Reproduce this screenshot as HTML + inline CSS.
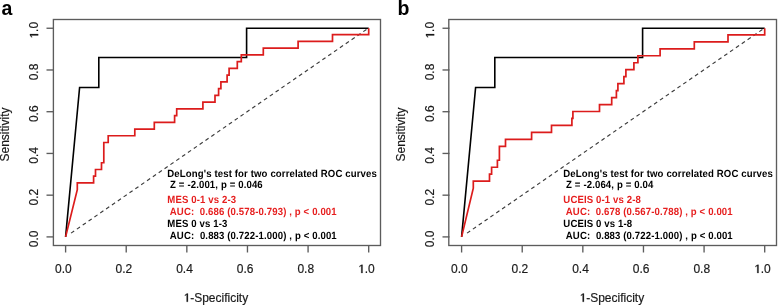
<!DOCTYPE html>
<html><head><meta charset="utf-8"><style>
html,body{margin:0;padding:0;background:#fff;width:778px;height:305px;overflow:hidden}
svg{display:block;filter:blur(0.3px);font-family:"Liberation Sans",sans-serif} text{white-space:pre}
</style></head><body>
<svg width="778" height="305" viewBox="0 0 778 305">
<rect width="778" height="305" fill="#fff"/>
<rect x="53.40" y="19.5" width="327.10" height="226" fill="none" stroke="#5c5c5c" stroke-width="1.35"/>
<line x1="65.60" y1="245.5" x2="65.60" y2="252.5" stroke="#5c5c5c" stroke-width="1.35"/>
<g transform="translate(63.30,273)"><text x="0" y="0" text-anchor="middle" font-size="12" fill="#1a1a1a" stroke="#1a1a1a" stroke-width="0.18">0.0</text></g>
<line x1="126.22" y1="245.5" x2="126.22" y2="252.5" stroke="#5c5c5c" stroke-width="1.35"/>
<g transform="translate(123.92,273)"><text x="0" y="0" text-anchor="middle" font-size="12" fill="#1a1a1a" stroke="#1a1a1a" stroke-width="0.18">0.2</text></g>
<line x1="186.84" y1="245.5" x2="186.84" y2="252.5" stroke="#5c5c5c" stroke-width="1.35"/>
<g transform="translate(184.54,273)"><text x="0" y="0" text-anchor="middle" font-size="12" fill="#1a1a1a" stroke="#1a1a1a" stroke-width="0.18">0.4</text></g>
<line x1="247.46" y1="245.5" x2="247.46" y2="252.5" stroke="#5c5c5c" stroke-width="1.35"/>
<g transform="translate(245.16,273)"><text x="0" y="0" text-anchor="middle" font-size="12" fill="#1a1a1a" stroke="#1a1a1a" stroke-width="0.18">0.6</text></g>
<line x1="308.08" y1="245.5" x2="308.08" y2="252.5" stroke="#5c5c5c" stroke-width="1.35"/>
<g transform="translate(305.78,273)"><text x="0" y="0" text-anchor="middle" font-size="12" fill="#1a1a1a" stroke="#1a1a1a" stroke-width="0.18">0.8</text></g>
<line x1="368.70" y1="245.5" x2="368.70" y2="252.5" stroke="#5c5c5c" stroke-width="1.35"/>
<g transform="translate(366.40,273)"><g transform="translate(-8.34,0)"><path d="M540 0L770 0L770 1409L590 1409L247 1180L247 1010L540 1227Z" transform="scale(0.005859,-0.005859)" fill="#1a1a1a" stroke="#1a1a1a" stroke-width="40"/><text x="6.674" y="0" font-size="12" fill="#1a1a1a" stroke="#1a1a1a" stroke-width="0.18">.0</text></g></g>
<line x1="46.50" y1="236.90" x2="53.50" y2="236.90" stroke="#5c5c5c" stroke-width="1.35"/>
<g transform="translate(38.20,238.90) rotate(-90)"><text x="0" y="0" text-anchor="middle" font-size="12" fill="#1a1a1a" stroke="#1a1a1a" stroke-width="0.18">0.0</text></g>
<line x1="46.50" y1="195.17" x2="53.50" y2="195.17" stroke="#5c5c5c" stroke-width="1.35"/>
<g transform="translate(38.20,197.17) rotate(-90)"><text x="0" y="0" text-anchor="middle" font-size="12" fill="#1a1a1a" stroke="#1a1a1a" stroke-width="0.18">0.2</text></g>
<line x1="46.50" y1="153.44" x2="53.50" y2="153.44" stroke="#5c5c5c" stroke-width="1.35"/>
<g transform="translate(38.20,155.44) rotate(-90)"><text x="0" y="0" text-anchor="middle" font-size="12" fill="#1a1a1a" stroke="#1a1a1a" stroke-width="0.18">0.4</text></g>
<line x1="46.50" y1="111.71" x2="53.50" y2="111.71" stroke="#5c5c5c" stroke-width="1.35"/>
<g transform="translate(38.20,113.71) rotate(-90)"><text x="0" y="0" text-anchor="middle" font-size="12" fill="#1a1a1a" stroke="#1a1a1a" stroke-width="0.18">0.6</text></g>
<line x1="46.50" y1="69.98" x2="53.50" y2="69.98" stroke="#5c5c5c" stroke-width="1.35"/>
<g transform="translate(38.20,71.98) rotate(-90)"><text x="0" y="0" text-anchor="middle" font-size="12" fill="#1a1a1a" stroke="#1a1a1a" stroke-width="0.18">0.8</text></g>
<line x1="46.50" y1="28.25" x2="53.50" y2="28.25" stroke="#5c5c5c" stroke-width="1.35"/>
<g transform="translate(38.20,30.25) rotate(-90)"><g transform="translate(-8.34,0)"><path d="M540 0L770 0L770 1409L590 1409L247 1180L247 1010L540 1227Z" transform="scale(0.005859,-0.005859)" fill="#1a1a1a" stroke="#1a1a1a" stroke-width="40"/><text x="6.674" y="0" font-size="12" fill="#1a1a1a" stroke="#1a1a1a" stroke-width="0.18">.0</text></g></g>
<text transform="translate(9.00,134.5) rotate(-90)" text-anchor="middle" font-size="12" fill="#1a1a1a" stroke="#1a1a1a" stroke-width="0.18">Sensitivity</text>
<g transform="translate(215.80,301.8)"><g transform="translate(-32.34,0)"><path d="M540 0L770 0L770 1409L590 1409L247 1180L247 1010L540 1227Z" transform="scale(0.005859,-0.005859)" fill="#1a1a1a" stroke="#1a1a1a" stroke-width="40"/><text x="6.674" y="0" font-size="12" fill="#1a1a1a" stroke="#1a1a1a" stroke-width="0.18">-Specificity</text></g></g>
<text x="1.50" y="14.6" font-size="19.5" font-weight="bold" fill="#000">a</text>
<line x1="71.03" y1="233.15" x2="368.70" y2="27.90" stroke="#3c3c3c" stroke-width="1.15" stroke-dasharray="3.8 3.3"/>
<path d="M65.60 236.90 L79.60 87.50 L98.80 87.50 L98.80 57.50 L246.60 57.50 L246.60 28.25 L368.70 28.25" fill="none" stroke="#000" stroke-width="1.6" stroke-linejoin="miter" stroke-linecap="butt"/>
<path d="M65.60 236.90 L77.30 189.71 L77.30 182.96 L93.60 182.96 L93.60 176.22 L95.50 176.22 L95.50 169.48 L101.50 169.48 L101.50 162.74 L103.80 162.74 L103.80 142.51 L108.20 142.51 L108.20 135.77 L134.80 135.77 L134.80 129.03 L154.30 129.03 L154.30 122.29 L174.60 122.29 L174.60 115.55 L176.70 115.55 L176.70 108.80 L202.90 108.80 L202.90 102.06 L215.00 102.06 L215.00 95.32 L218.60 95.32 L218.60 88.58 L220.90 88.58 L220.90 81.84 L227.10 81.84 L227.10 75.09 L229.10 75.09 L229.10 68.35 L237.30 68.35 L237.30 61.61 L241.30 61.61 L241.30 54.87 L263.30 54.87 L263.30 48.13 L298.10 48.13 L298.10 41.38 L332.50 41.38 L332.50 34.64 L368.70 34.64 L368.70 28.25" fill="none" stroke="#dc1c1c" stroke-width="1.7" stroke-linejoin="miter" stroke-linecap="butt"/>
<g transform="translate(167.00,0) scale(0.925,1) skewX(0.1)" font-size="10.4" font-weight="bold" letter-spacing="0.13" stroke-width="0">
<text x="0" y="176.7" fill="#000" stroke="#000">DeLong's test for two correlated ROC curves</text>
<text x="0" y="188.2" fill="#000" stroke="#000"> Z = -2.001, p = 0.046</text>
<text x="0" y="203.3" fill="#e61e1e" stroke="#e61e1e">MES 0-1 vs 2-3</text>
<text x="0" y="215.2" fill="#e61e1e" stroke="#e61e1e"> AUC:  0.686 (0.578-0.793) , p &lt; 0.001</text>
<text x="0" y="227.0" fill="#000" stroke="#000">MES 0 vs 1-3</text>
<text x="0" y="238.8" fill="#000" stroke="#000"> AUC:  0.883 (0.722-1.000) , p &lt; 0.001</text>
</g>
<rect x="448.80" y="19.5" width="327.70" height="226" fill="none" stroke="#5c5c5c" stroke-width="1.35"/>
<line x1="461.60" y1="245.5" x2="461.60" y2="252.5" stroke="#5c5c5c" stroke-width="1.35"/>
<g transform="translate(459.30,273)"><text x="0" y="0" text-anchor="middle" font-size="12" fill="#1a1a1a" stroke="#1a1a1a" stroke-width="0.18">0.0</text></g>
<line x1="522.22" y1="245.5" x2="522.22" y2="252.5" stroke="#5c5c5c" stroke-width="1.35"/>
<g transform="translate(519.92,273)"><text x="0" y="0" text-anchor="middle" font-size="12" fill="#1a1a1a" stroke="#1a1a1a" stroke-width="0.18">0.2</text></g>
<line x1="582.84" y1="245.5" x2="582.84" y2="252.5" stroke="#5c5c5c" stroke-width="1.35"/>
<g transform="translate(580.54,273)"><text x="0" y="0" text-anchor="middle" font-size="12" fill="#1a1a1a" stroke="#1a1a1a" stroke-width="0.18">0.4</text></g>
<line x1="643.46" y1="245.5" x2="643.46" y2="252.5" stroke="#5c5c5c" stroke-width="1.35"/>
<g transform="translate(641.16,273)"><text x="0" y="0" text-anchor="middle" font-size="12" fill="#1a1a1a" stroke="#1a1a1a" stroke-width="0.18">0.6</text></g>
<line x1="704.08" y1="245.5" x2="704.08" y2="252.5" stroke="#5c5c5c" stroke-width="1.35"/>
<g transform="translate(701.78,273)"><text x="0" y="0" text-anchor="middle" font-size="12" fill="#1a1a1a" stroke="#1a1a1a" stroke-width="0.18">0.8</text></g>
<line x1="764.70" y1="245.5" x2="764.70" y2="252.5" stroke="#5c5c5c" stroke-width="1.35"/>
<g transform="translate(762.40,273)"><g transform="translate(-8.34,0)"><path d="M540 0L770 0L770 1409L590 1409L247 1180L247 1010L540 1227Z" transform="scale(0.005859,-0.005859)" fill="#1a1a1a" stroke="#1a1a1a" stroke-width="40"/><text x="6.674" y="0" font-size="12" fill="#1a1a1a" stroke="#1a1a1a" stroke-width="0.18">.0</text></g></g>
<line x1="442.50" y1="236.90" x2="449.50" y2="236.90" stroke="#5c5c5c" stroke-width="1.35"/>
<g transform="translate(434.20,238.90) rotate(-90)"><text x="0" y="0" text-anchor="middle" font-size="12" fill="#1a1a1a" stroke="#1a1a1a" stroke-width="0.18">0.0</text></g>
<line x1="442.50" y1="195.17" x2="449.50" y2="195.17" stroke="#5c5c5c" stroke-width="1.35"/>
<g transform="translate(434.20,197.17) rotate(-90)"><text x="0" y="0" text-anchor="middle" font-size="12" fill="#1a1a1a" stroke="#1a1a1a" stroke-width="0.18">0.2</text></g>
<line x1="442.50" y1="153.44" x2="449.50" y2="153.44" stroke="#5c5c5c" stroke-width="1.35"/>
<g transform="translate(434.20,155.44) rotate(-90)"><text x="0" y="0" text-anchor="middle" font-size="12" fill="#1a1a1a" stroke="#1a1a1a" stroke-width="0.18">0.4</text></g>
<line x1="442.50" y1="111.71" x2="449.50" y2="111.71" stroke="#5c5c5c" stroke-width="1.35"/>
<g transform="translate(434.20,113.71) rotate(-90)"><text x="0" y="0" text-anchor="middle" font-size="12" fill="#1a1a1a" stroke="#1a1a1a" stroke-width="0.18">0.6</text></g>
<line x1="442.50" y1="69.98" x2="449.50" y2="69.98" stroke="#5c5c5c" stroke-width="1.35"/>
<g transform="translate(434.20,71.98) rotate(-90)"><text x="0" y="0" text-anchor="middle" font-size="12" fill="#1a1a1a" stroke="#1a1a1a" stroke-width="0.18">0.8</text></g>
<line x1="442.50" y1="28.25" x2="449.50" y2="28.25" stroke="#5c5c5c" stroke-width="1.35"/>
<g transform="translate(434.20,30.25) rotate(-90)"><g transform="translate(-8.34,0)"><path d="M540 0L770 0L770 1409L590 1409L247 1180L247 1010L540 1227Z" transform="scale(0.005859,-0.005859)" fill="#1a1a1a" stroke="#1a1a1a" stroke-width="40"/><text x="6.674" y="0" font-size="12" fill="#1a1a1a" stroke="#1a1a1a" stroke-width="0.18">.0</text></g></g>
<text transform="translate(405.00,134.5) rotate(-90)" text-anchor="middle" font-size="12" fill="#1a1a1a" stroke="#1a1a1a" stroke-width="0.18">Sensitivity</text>
<g transform="translate(611.80,301.8)"><g transform="translate(-32.34,0)"><path d="M540 0L770 0L770 1409L590 1409L247 1180L247 1010L540 1227Z" transform="scale(0.005859,-0.005859)" fill="#1a1a1a" stroke="#1a1a1a" stroke-width="40"/><text x="6.674" y="0" font-size="12" fill="#1a1a1a" stroke="#1a1a1a" stroke-width="0.18">-Specificity</text></g></g>
<text x="397.50" y="14.6" font-size="19.5" font-weight="bold" fill="#000">b</text>
<line x1="467.03" y1="233.15" x2="764.70" y2="27.90" stroke="#3c3c3c" stroke-width="1.15" stroke-dasharray="3.8 3.3"/>
<path d="M461.60 236.90 L475.60 87.50 L494.80 87.50 L494.80 57.50 L642.60 57.50 L642.60 28.25 L764.70 28.25" fill="none" stroke="#000" stroke-width="1.6" stroke-linejoin="miter" stroke-linecap="butt"/>
<path d="M461.60 236.90 L473.30 188.13 L473.30 181.17 L489.50 181.17 L489.50 174.20 L491.60 174.20 L491.60 167.23 L497.40 167.23 L497.40 160.27 L499.40 160.27 L499.40 146.33 L505.50 146.33 L505.50 139.37 L531.60 139.37 L531.60 132.40 L551.50 132.40 L551.50 125.43 L571.90 125.43 L571.90 118.47 L572.90 118.47 L572.90 111.50 L599.50 111.50 L599.50 104.53 L611.70 104.53 L611.70 97.57 L616.40 97.57 L616.40 90.60 L617.90 90.60 L617.90 83.63 L623.90 83.63 L623.90 76.67 L625.90 76.67 L625.90 69.70 L633.90 69.70 L633.90 62.73 L637.90 62.73 L637.90 55.77 L660.10 55.77 L660.10 48.80 L694.30 48.80 L694.30 41.83 L728.00 41.83 L728.00 34.87 L764.70 34.87 L764.70 28.25" fill="none" stroke="#dc1c1c" stroke-width="1.7" stroke-linejoin="miter" stroke-linecap="butt"/>
<g transform="translate(563.00,0) scale(0.925,1) skewX(0.1)" font-size="10.4" font-weight="bold" letter-spacing="0.13" stroke-width="0">
<text x="0" y="176.7" fill="#000" stroke="#000">DeLong's test for two correlated ROC curves</text>
<text x="0" y="188.2" fill="#000" stroke="#000"> Z = -2.064, p = 0.04</text>
<text x="0" y="203.3" fill="#e61e1e" stroke="#e61e1e">UCEIS 0-1 vs 2-8</text>
<text x="0" y="215.2" fill="#e61e1e" stroke="#e61e1e"> AUC:  0.678 (0.567-0.788) , p &lt; 0.001</text>
<text x="0" y="227.0" fill="#000" stroke="#000">UCEIS 0 vs 1-8</text>
<text x="0" y="238.8" fill="#000" stroke="#000"> AUC:  0.883 (0.722-1.000) , p &lt; 0.001</text>
</g>
</svg>
</body></html>
